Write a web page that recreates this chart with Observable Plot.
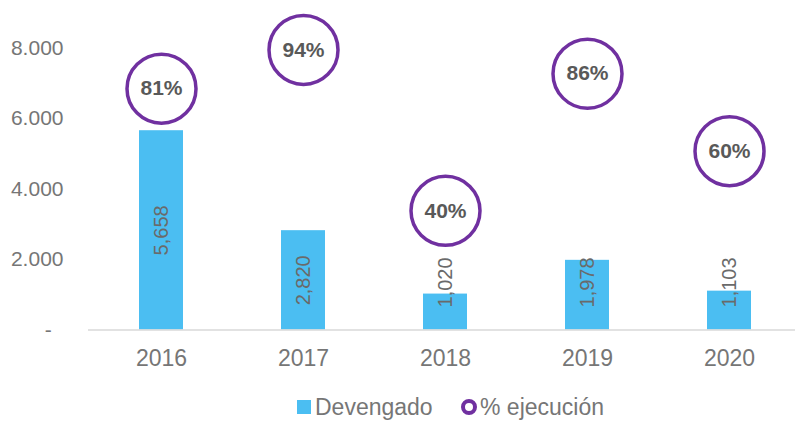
<!DOCTYPE html>
<html>
<head>
<meta charset="utf-8">
<script src="https://cdn.jsdelivr.net/npm/d3@7"></script>
<script src="https://cdn.jsdelivr.net/npm/@observablehq/plot@0.6"></script>
<style>
  html, body { margin: 0; padding: 0; background: #fff; }
  body { width: 795px; height: 424px; overflow: hidden; font-family: "Liberation Sans", Arial, sans-serif; }
  #legend { position: relative; height: 34px; }
  .item { position: absolute; top: 0; display: flex; align-items: center; height: 34px; font-size: 23px; color: #767676; }
  .sq { width: 14px; height: 14px; background: #4BBEF2; margin-right: 4px; }
  .ring { width: 8px; height: 8px; border: 4px solid #7030A0; border-radius: 50%; margin-right: 3px; }
</style>
</head>
<body>
<div id="chart"></div>
<div id="legend">
  <div class="item" style="left:297px"><span class="sq"></span>Devengado</div>
  <div class="item" style="left:461px"><span class="ring"></span>% ejecución</div>
</div>
<script>
const years = ["2016", "2017", "2018", "2019", "2020"];
const devengado = [5658, 2820, 1020, 1978, 1103];
const ejecucion = [0.81, 0.94, 0.40, 0.86, 0.60];
const yTicks = [0, 2000, 4000, 6000, 8000];
// secondary axis: 100% sits at this primary-axis value
const pctAxisTop = 8460;
// minimum position of the bar labels (labels do not sink below this value)
const labelFloor = 1350;

const data = years.map((y, i) => ({year: y, value: devengado[i], pct: ejecucion[i]}));

const es = d3.formatLocale({decimal: ",", thousands: ".", grouping: [3], currency: ["", ""]});
const fmtAxis = d => d === 0 ? "-\u00a0\u00a0" : es.format(",")(d);
const fmtLabel = d3.format(",");

const chart = Plot.plot({
  width: 795,
  height: 390,
  marginLeft: 88,
  marginRight: 0,
  marginTop: 12.5,
  marginBottom: 60.5,
  style: {fontFamily: "'Liberation Sans', Arial, sans-serif", fontSize: "21px", background: "white", overflow: "visible"},
  x: {type: "band", domain: years, range: [88.75, 801.25], paddingInner: 0.69, paddingOuter: 0.345},
  y: {domain: [0, 9000]},
  marks: [
    Plot.barY(data, {x: "year", y: "value", fill: "#4BBEF2"}),
    Plot.ruleY([0], {stroke: "#d9d9d9", strokeWidth: 1.5}),
    Plot.axisY({ticks: yTicks, tickSize: 0, tickPadding: 25, tickFormat: fmtAxis, fontSize: 21, color: "#767676", label: null}),
    Plot.axisX({tickSize: 0, tickPadding: 20, fontSize: 23, color: "#767676", label: null}),
    Plot.text(data, {x: "year", y: d => Math.max(d.value / 2, labelFloor), text: d => fmtLabel(d.value), rotate: -90, fontSize: 20, fill: "#6a6a6a"}),
    Plot.dot(data, {x: "year", y: d => d.pct * pctAxisTop, r: 34.5, stroke: "#7030A0", strokeWidth: 3.5, fill: "white"}),
    Plot.text(data, {x: "year", y: d => d.pct * pctAxisTop, text: d => Math.round(d.pct * 100) + "%", fontSize: 21, fontWeight: "bold", fill: "#595959"})
  ]
});
document.getElementById("chart").appendChild(chart);
</script>
</body>
</html>
